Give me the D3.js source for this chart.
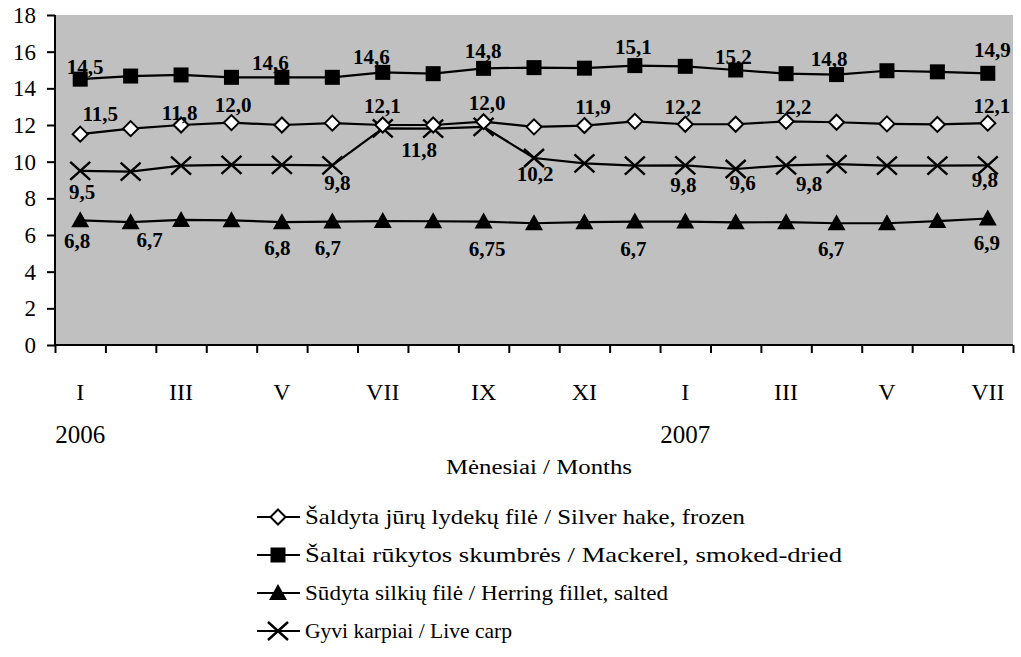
<!DOCTYPE html>
<html>
<head>
<meta charset="utf-8">
<script src="https://cdn.jsdelivr.net/npm/d3@7"></script>
<style>
  html, body { margin: 0; padding: 0; background: #fff; }
  svg { display: block; }
  svg text { font-family: "Liberation Serif", "Times New Roman", serif; fill: #000; }
</style>
</head>
<body>
<svg id="chart" width="1021" height="657"></svg>
<script>
// Months I 2006 .. VII 2007
const months = ["I","II","III","IV","V","VI","VII","VIII","IX","X","XI","XII",
                "I","II","III","IV","V","VI","VII"];
const yearLabels = [{ index: 0, text: "2006" }, { index: 12, text: "2007" }];
const yTicks = [0, 2, 4, 6, 8, 10, 12, 14, 16, 18];
const xTitle = "Mėnesiai / Months";

const seriesNames = [
  "Šaldyta jūrų lydekų filė / Silver hake, frozen",
  "Šaltai rūkytos skumbrės / Mackerel, smoked-dried",
  "Sūdyta silkių filė / Herring fillet, salted",
  "Gyvi karpiai / Live carp"
];

const hake     = [11.5, 11.8, 12.0, 12.13, 12.0, 12.1, 12.0, 12.0, 12.18, 11.9,
                  11.97, 12.2, 12.04, 12.04, 12.2, 12.15, 12.06, 12.03, 12.1];
const mackerel = [14.5, 14.67, 14.73, 14.6, 14.6, 14.6, 14.87, 14.8, 15.09, 15.13,
                  15.1, 15.24, 15.2, 15.0, 14.8, 14.75, 14.96, 14.9, 14.82];
const herring  = [6.8, 6.7, 6.82, 6.8, 6.7, 6.73, 6.76, 6.75, 6.73, 6.64,
                  6.7, 6.73, 6.73, 6.69, 6.7, 6.64, 6.64, 6.76, 6.9];
const carp     = [9.5, 9.46, 9.78, 9.82, 9.82, 9.8, 11.82, 11.8, 11.9, 10.2,
                  9.91, 9.78, 9.8, 9.6, 9.8, 9.87, 9.78, 9.78, 9.8];

// Points that carry a value label
const hakeLabelled     = [0, 1, 2, 5, 7, 9, 11, 14, 18];
const mackerelLabelled = [0, 3, 5, 7, 10, 12, 14, 17];
const herringLabelled  = [0, 1, 3, 4, 7, 10, 14, 18];
const carpLabelled     = [0, 5, 7, 9, 12, 13, 14, 18];

// Label offsets from their point (px), same order as the index lists
const hakeNudge     = [[20,-21],[49,-16],[52,-20],[50,-18],[54,-22],[59,-20],[48,-15],[7,-15],[4,-18]];
const mackerelNudge = [[5,-13],[39,-15],[39,-21],[50,-23],[49,-22],[48,-10],[43,-15],[55,-22]];
const herringNudge  = [[-3,20],[19,17],[46,27],[46,25],[54,27],[49,26],[45,26],[-1,24]];
const carpNudge     = [[2,21],[5,17],[-14,21],[1,16],[-2,19],[7,14],[23,18],[-3,14]];

const svg = d3.select("#chart");
const plot = { left: 55, right: 1013, top: 15, bottom: 345 };
const serif = "Liberation Serif, Times New Roman, serif";

const x = d3.scaleBand().domain(d3.range(months.length)).range([plot.left, plot.right]).padding(0);
const xEdge = d3.scaleLinear().domain([0, months.length]).range([plot.left, plot.right]);
const y = d3.scaleLinear().domain([0, 18]).range([plot.bottom, plot.top]);
const cx = i => x(i) + x.bandwidth() / 2;

// plot background
svg.append("rect")
  .attr("x", plot.left).attr("y", plot.top)
  .attr("width", plot.right - plot.left).attr("height", plot.bottom - plot.top)
  .attr("fill", "#c0c0c0");

// axes
const yAxis = svg.append("g")
  .attr("transform", `translate(${plot.left},0)`)
  .call(d3.axisLeft(y).tickValues(yTicks).tickSize(8).tickPadding(11).tickFormat(d3.format("d")));
yAxis.attr("font-family", serif);
yAxis.select(".domain").attr("stroke", "#000").attr("stroke-width", 2).attr("d", `M0,${plot.top}V${plot.bottom}`);
yAxis.selectAll(".tick line").attr("stroke", "#000").attr("stroke-width", 2);
yAxis.selectAll(".tick text").attr("font-size", 23).attr("font-family", serif).attr("fill", "#000");

const xAxis = svg.append("g")
  .attr("transform", `translate(0,${plot.bottom})`)
  .call(d3.axisBottom(xEdge).tickValues(d3.range(months.length + 1)).tickSize(8).tickFormat(""));
xAxis.select(".domain").attr("stroke", "#000").attr("stroke-width", 2).attr("d", `M${plot.left},0H${plot.right}`);
xAxis.selectAll(".tick line").attr("stroke", "#000").attr("stroke-width", 2);

// month labels, every second month
svg.append("g").selectAll("text")
  .data(months.map((m, i) => ({ m, i })).filter(d => d.i % 2 === 0))
  .join("text")
  .attr("x", d => cx(d.i)).attr("y", 400)
  .attr("text-anchor", "middle").attr("font-size", 24).attr("font-family", serif)
  .text(d => d.m);

svg.append("g").selectAll("text")
  .data(yearLabels)
  .join("text")
  .attr("x", d => cx(d.index)).attr("y", 443)
  .attr("text-anchor", "middle").attr("font-size", 25).attr("font-family", serif)
  .text(d => d.text);

svg.append("text")
  .attr("x", 539).attr("y", 474)
  .attr("text-anchor", "middle").attr("font-size", 20).attr("font-family", serif)
  .attr("textLength", 186).attr("lengthAdjust", "spacingAndGlyphs")
  .text(xTitle);

// marker shapes
function drawMarker(g, kind) {
  if (kind === "diamond") {
    g.append("path").attr("d", "M0,-7.5L7.5,0L0,7.5L-7.5,0Z")
      .attr("fill", "#fff").attr("stroke", "#000").attr("stroke-width", 2);
  } else if (kind === "square") {
    g.append("rect").attr("x", -7.5).attr("y", -7.5).attr("width", 15).attr("height", 15)
      .attr("fill", "#000");
  } else if (kind === "triangle") {
    g.append("path").attr("d", "M0,-9L9,7L-9,7Z").attr("fill", "#000");
  } else if (kind === "cross") {
    g.append("path").attr("d", "M-10,-9L10,9M-10,9L10,-9")
      .attr("stroke", "#000").attr("stroke-width", 2.4).attr("fill", "none");
  }
}

const series = [
  { values: hake,     marker: "diamond",  labelled: hakeLabelled,     nudge: hakeNudge },
  { values: mackerel, marker: "square",   labelled: mackerelLabelled, nudge: mackerelNudge },
  { values: herring,  marker: "triangle", labelled: herringLabelled,  nudge: herringNudge },
  { values: carp,     marker: "cross",    labelled: carpLabelled,     nudge: carpNudge }
];

const fmt = v => {
  const two = Math.round(v * 100);
  const s = (two % 10 !== 0) ? v.toFixed(2) : v.toFixed(1);
  return s.replace(".", ",");
};

const line = d3.line().x((d, i) => cx(i)).y(d => y(d));

// draw order: herring, carp, hake, mackerel
[2, 3, 0, 1].forEach(k => {
  const s = series[k];
  const g = svg.append("g");
  g.append("path").attr("d", line(s.values))
    .attr("fill", "none").attr("stroke", "#000").attr("stroke-width", 2.2);
  s.values.forEach((v, i) => {
    const m = g.append("g").attr("transform", `translate(${cx(i)},${y(v)})`);
    drawMarker(m, s.marker);
  });
});

// value labels
series.forEach(s => {
  svg.append("g").selectAll("text")
    .data(s.labelled.map((idx, j) => ({ idx, dx: s.nudge[j][0], dy: s.nudge[j][1] })))
    .join("text")
    .attr("x", d => cx(d.idx) + d.dx)
    .attr("y", d => y(s.values[d.idx]) + d.dy)
    .attr("dy", "0.35em")
    .attr("text-anchor", "middle")
    .attr("font-size", 21).attr("font-weight", "bold").attr("font-family", serif)
    .text(d => fmt(s.values[d.idx]));
});

// legend
const legendRows = [517, 555, 593, 631];
const legendWidths = [440, 537, 363, 207];
series.forEach((s, k) => {
  const g = svg.append("g").attr("transform", `translate(0,${legendRows[k]})`);
  g.append("line").attr("x1", 257).attr("x2", 300).attr("y1", 0).attr("y2", 0)
    .attr("stroke", "#000").attr("stroke-width", 2);
  const m = g.append("g").attr("transform", "translate(278,0)");
  drawMarker(m, s.marker);
  g.append("text").attr("x", 305).attr("y", 0).attr("dy", "0.35em")
    .attr("font-size", 21).attr("font-family", serif)
    .attr("textLength", legendWidths[k]).attr("lengthAdjust", "spacingAndGlyphs")
    .text(seriesNames[k]);
});
</script>
</body>
</html>
